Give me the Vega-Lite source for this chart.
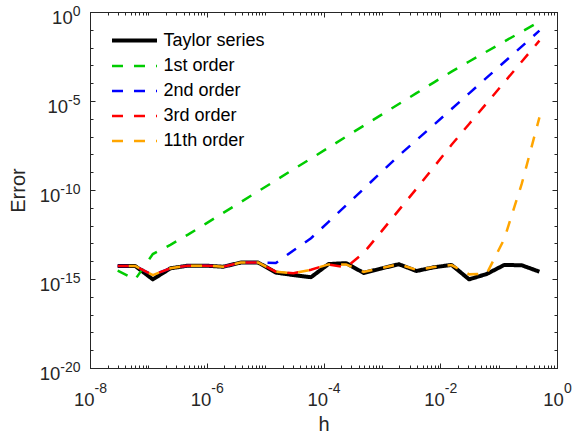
{
  "$schema": "https://vega.github.io/schema/vega-lite/v6.json",
  "width": 467,
  "height": 356,
  "autosize": {"type": "none"},
  "padding": {"left": 90, "top": 12, "right": 17, "bottom": 67},
  "background": "white",
  "config": {
    "font": "Liberation Sans",
    "view": {"stroke": "#262626", "strokeWidth": 1},
    "axis": {
      "grid": false,
      "domainColor": "#262626",
      "domainWidth": 1,
      "tickColor": "#262626",
      "tickWidth": 1,
      "labelColor": "#262626",
      "titleColor": "#262626",
      "labelFont": "Liberation Sans",
      "titleFont": "Liberation Sans",
      "labelFontSize": 18.5,
      "titleFontSize": 20,
      "titleFontWeight": "normal",
      "labelOverlap": false,
      "labelFlush": false,
      "labelBound": false
    },
    "legend": {
      "orient": "none",
      "legendX": 35,
      "legendY": 19,
      "padding": 0,
      "symbolType": "M-3,0H3",
      "symbolSize": 225,
      "labelFont": "Liberation Sans",
      "labelFontSize": 18,
      "labelColor": "#000000",
      "labelOffset": 19.5,
      "rowPadding": 7,
      "labelLimit": 300
    }
  },
  "data": {
    "values": [
      {"h": 0.5, "error": 2.57e-15, "series": "Taylor series"},
      {"h": 0.25, "error": 5.89e-15, "series": "Taylor series"},
      {"h": 0.125, "error": 6.17e-15, "series": "Taylor series"},
      {"h": 0.0625, "error": 1.91e-15, "series": "Taylor series"},
      {"h": 0.03125, "error": 9.55e-16, "series": "Taylor series"},
      {"h": 0.015625, "error": 6.17e-15, "series": "Taylor series"},
      {"h": 0.0078125, "error": 4.57e-15, "series": "Taylor series"},
      {"h": 0.00390625, "error": 2.82e-15, "series": "Taylor series"},
      {"h": 0.001953125, "error": 6.76e-15, "series": "Taylor series"},
      {"h": 0.0009765625, "error": 3.89e-15, "series": "Taylor series"},
      {"h": 0.00048828125, "error": 2.19e-15, "series": "Taylor series"},
      {"h": 0.000244140625, "error": 7.76e-15, "series": "Taylor series"},
      {"h": 0.0001220703125, "error": 6.92e-15, "series": "Taylor series"},
      {"h": 6.103515625e-5, "error": 1.26e-15, "series": "Taylor series"},
      {"h": 3.0517578125e-5, "error": 1.66e-15, "series": "Taylor series"},
      {"h": 1.52587890625e-5, "error": 2.29e-15, "series": "Taylor series"},
      {"h": 7.62939453125e-6, "error": 8.32e-15, "series": "Taylor series"},
      {"h": 3.814697265625e-6, "error": 8.32e-15, "series": "Taylor series"},
      {"h": 1.9073486328125e-6, "error": 4.9e-15, "series": "Taylor series"},
      {"h": 9.5367431640625e-7, "error": 5.62e-15, "series": "Taylor series"},
      {"h": 4.76837158203125e-7, "error": 5.62e-15, "series": "Taylor series"},
      {"h": 2.384185791015625e-7, "error": 3.98e-15, "series": "Taylor series"},
      {"h": 1.1920928955078125e-7, "error": 9.55e-16, "series": "Taylor series"},
      {"h": 5.9604644775390625e-8, "error": 5.37e-15, "series": "Taylor series"},
      {"h": 2.98023223876953125e-8, "error": 5.37e-15, "series": "Taylor series"},

      {"h": 0.5, "error": 0.285, "series": "1st order"},
      {"h": 0.25, "error": 0.0794, "series": "1st order"},
      {"h": 0.125, "error": 0.0219, "series": "1st order"},
      {"h": 0.0625, "error": 0.00603, "series": "1st order"},
      {"h": 0.03125, "error": 0.00166, "series": "1st order"},
      {"h": 0.015625, "error": 0.000447, "series": "1st order"},
      {"h": 0.0078125, "error": 0.000112, "series": "1st order"},
      {"h": 0.00390625, "error": 2.75e-5, "series": "1st order"},
      {"h": 0.001953125, "error": 6.76e-6, "series": "1st order"},
      {"h": 0.0009765625, "error": 1.66e-6, "series": "1st order"},
      {"h": 0.00048828125, "error": 4.07e-7, "series": "1st order"},
      {"h": 0.000244140625, "error": 1.0e-7, "series": "1st order"},
      {"h": 0.0001220703125, "error": 2.4e-8, "series": "1st order"},
      {"h": 6.103515625e-5, "error": 5.89e-9, "series": "1st order"},
      {"h": 3.0517578125e-5, "error": 1.45e-9, "series": "1st order"},
      {"h": 1.52587890625e-5, "error": 3.47e-10, "series": "1st order"},
      {"h": 7.62939453125e-6, "error": 8.51e-11, "series": "1st order"},
      {"h": 3.814697265625e-6, "error": 2.09e-11, "series": "1st order"},
      {"h": 1.9073486328125e-6, "error": 5.13e-12, "series": "1st order"},
      {"h": 9.5367431640625e-7, "error": 1.26e-12, "series": "1st order"},
      {"h": 4.76837158203125e-7, "error": 3.09e-13, "series": "1st order"},
      {"h": 2.384185791015625e-7, "error": 8.32e-14, "series": "1st order"},
      {"h": 1.1920928955078125e-7, "error": 2.51e-14, "series": "1st order"},
      {"h": 5.9604644775390625e-8, "error": 9.55e-16, "series": "1st order"},
      {"h": 2.98023223876953125e-8, "error": 2.95e-15, "series": "1st order"},

      {"h": 0.5, "error": 0.0891, "series": "2nd order"},
      {"h": 0.25, "error": 0.0117, "series": "2nd order"},
      {"h": 0.125, "error": 0.00155, "series": "2nd order"},
      {"h": 0.0625, "error": 0.000204, "series": "2nd order"},
      {"h": 0.03125, "error": 2.69e-5, "series": "2nd order"},
      {"h": 0.015625, "error": 3.55e-6, "series": "2nd order"},
      {"h": 0.0078125, "error": 4.68e-7, "series": "2nd order"},
      {"h": 0.00390625, "error": 6.31e-8, "series": "2nd order"},
      {"h": 0.001953125, "error": 8.51e-9, "series": "2nd order"},
      {"h": 0.0009765625, "error": 1.0e-9, "series": "2nd order"},
      {"h": 0.00048828125, "error": 1.17e-10, "series": "2nd order"},
      {"h": 0.000244140625, "error": 1.38e-11, "series": "2nd order"},
      {"h": 0.0001220703125, "error": 1.62e-12, "series": "2nd order"},
      {"h": 6.103515625e-5, "error": 1.95e-13, "series": "2nd order"},
      {"h": 3.0517578125e-5, "error": 3.98e-14, "series": "2nd order"},
      {"h": 1.52587890625e-5, "error": 7.94e-15, "series": "2nd order"},
      {"h": 7.62939453125e-6, "error": 8.32e-15, "series": "2nd order"},
      {"h": 3.814697265625e-6, "error": 8.32e-15, "series": "2nd order"},
      {"h": 1.9073486328125e-6, "error": 4.9e-15, "series": "2nd order"},
      {"h": 9.5367431640625e-7, "error": 5.62e-15, "series": "2nd order"},
      {"h": 4.76837158203125e-7, "error": 5.62e-15, "series": "2nd order"},
      {"h": 2.384185791015625e-7, "error": 3.98e-15, "series": "2nd order"},
      {"h": 1.1920928955078125e-7, "error": 1.66e-15, "series": "2nd order"},
      {"h": 5.9604644775390625e-8, "error": 5.37e-15, "series": "2nd order"},
      {"h": 2.98023223876953125e-8, "error": 5.37e-15, "series": "2nd order"},

      {"h": 0.5, "error": 0.0245, "series": "3rd order"},
      {"h": 0.25, "error": 0.00166, "series": "3rd order"},
      {"h": 0.125, "error": 0.000112, "series": "3rd order"},
      {"h": 0.0625, "error": 7.59e-6, "series": "3rd order"},
      {"h": 0.03125, "error": 5.13e-7, "series": "3rd order"},
      {"h": 0.015625, "error": 3.47e-8, "series": "3rd order"},
      {"h": 0.0078125, "error": 2.0e-9, "series": "3rd order"},
      {"h": 0.00390625, "error": 1.17e-10, "series": "3rd order"},
      {"h": 0.001953125, "error": 7.41e-12, "series": "3rd order"},
      {"h": 0.0009765625, "error": 4.57e-13, "series": "3rd order"},
      {"h": 0.00048828125, "error": 2.95e-14, "series": "3rd order"},
      {"h": 0.000244140625, "error": 4.47e-15, "series": "3rd order"},
      {"h": 0.0001220703125, "error": 6.61e-15, "series": "3rd order"},
      {"h": 6.103515625e-5, "error": 3.31e-15, "series": "3rd order"},
      {"h": 3.0517578125e-5, "error": 2.09e-15, "series": "3rd order"},
      {"h": 1.52587890625e-5, "error": 2.57e-15, "series": "3rd order"},
      {"h": 7.62939453125e-6, "error": 8.32e-15, "series": "3rd order"},
      {"h": 3.814697265625e-6, "error": 8.32e-15, "series": "3rd order"},
      {"h": 1.9073486328125e-6, "error": 4.9e-15, "series": "3rd order"},
      {"h": 9.5367431640625e-7, "error": 5.62e-15, "series": "3rd order"},
      {"h": 4.76837158203125e-7, "error": 5.62e-15, "series": "3rd order"},
      {"h": 2.384185791015625e-7, "error": 3.98e-15, "series": "3rd order"},
      {"h": 1.1920928955078125e-7, "error": 1.66e-15, "series": "3rd order"},
      {"h": 5.9604644775390625e-8, "error": 5.37e-15, "series": "3rd order"},
      {"h": 2.98023223876953125e-8, "error": 5.37e-15, "series": "3rd order"},

      {"h": 0.5, "error": 1.2e-6, "series": "11th order"},
      {"h": 0.25, "error": 2.34e-10, "series": "11th order"},
      {"h": 0.125, "error": 1.78e-13, "series": "11th order"},
      {"h": 0.0625, "error": 2.0e-15, "series": "11th order"},
      {"h": 0.03125, "error": 1.82e-15, "series": "11th order"},
      {"h": 0.015625, "error": 6.03e-15, "series": "11th order"},
      {"h": 0.0078125, "error": 4.68e-15, "series": "11th order"},
      {"h": 0.00390625, "error": 3.24e-15, "series": "11th order"},
      {"h": 0.001953125, "error": 6.76e-15, "series": "11th order"},
      {"h": 0.0009765625, "error": 4.07e-15, "series": "11th order"},
      {"h": 0.00048828125, "error": 2.51e-15, "series": "11th order"},
      {"h": 0.000244140625, "error": 6.61e-15, "series": "11th order"},
      {"h": 0.0001220703125, "error": 6.61e-15, "series": "11th order"},
      {"h": 6.103515625e-5, "error": 3.31e-15, "series": "11th order"},
      {"h": 3.0517578125e-5, "error": 2.09e-15, "series": "11th order"},
      {"h": 1.52587890625e-5, "error": 2.57e-15, "series": "11th order"},
      {"h": 7.62939453125e-6, "error": 8.32e-15, "series": "11th order"},
      {"h": 3.814697265625e-6, "error": 8.32e-15, "series": "11th order"},
      {"h": 1.9073486328125e-6, "error": 4.9e-15, "series": "11th order"},
      {"h": 9.5367431640625e-7, "error": 5.62e-15, "series": "11th order"},
      {"h": 4.76837158203125e-7, "error": 5.62e-15, "series": "11th order"},
      {"h": 2.384185791015625e-7, "error": 3.98e-15, "series": "11th order"},
      {"h": 1.1920928955078125e-7, "error": 1.66e-15, "series": "11th order"},
      {"h": 5.9604644775390625e-8, "error": 5.37e-15, "series": "11th order"},
      {"h": 2.98023223876953125e-8, "error": 5.37e-15, "series": "11th order"}
    ]
  },
  "encoding": {
    "color": {
      "field": "series", "type": "nominal",
      "scale": {"domain": ["Taylor series", "1st order", "2nd order", "3rd order", "11th order"],
                "range": ["#000000", "#00cc00", "#0000ff", "#ff0000", "#ffa500"]},
      "legend": {"title": null}
    },
    "strokeDash": {
      "field": "series", "type": "nominal",
      "scale": {"domain": ["Taylor series", "1st order", "2nd order", "3rd order", "11th order"],
                "range": [[1, 0], [11, 11], [11, 11], [11, 11], [11, 11]]},
      "legend": {"title": null}
    },
    "strokeWidth": {
      "field": "series", "type": "nominal",
      "scale": {"type": "ordinal", "domain": ["Taylor series", "1st order", "2nd order", "3rd order", "11th order"],
                "range": [4, 2.5, 2.5, 2.5, 2.5]},
      "legend": {"title": null}
    }
  },
  "layer": [
    {
      "transform": [{"filter": "datum.series == 'Taylor series'"}],
      "mark": {"type": "line", "strokeJoin": "round"},
      "encoding": {
        "x": {
          "field": "h", "type": "quantitative",
          "scale": {"type": "log", "domain": [1e-8, 1], "nice": false},
          "axis": {
            "orient": "bottom",
            "title": "h",
            "titlePadding": 6,
            "ticks": false,
            "tickSize": 0,
            "domain": false,
            "values": [1e-8, 1e-6, 1e-4, 0.01, 1],
            "labelExpr": "'10'",
            "labelAlign": "right",
            "labelBaseline": "alphabetic",
            "labelPadding": 37,
            "labelOffset": {"condition": {"test": "datum.value == 1", "value": 6.4}, "value": 4.1}
          }
        },
        "y": {
          "field": "error", "type": "quantitative",
          "scale": {"type": "log", "domain": [1e-20, 1], "nice": false},
          "axis": {
            "orient": "left",
            "title": "Error",
            "titlePadding": 11,
            "ticks": false,
            "tickSize": 0,
            "domain": false,
            "values": [1e-20, 1e-15, 1e-10, 1e-5, 1],
            "labelExpr": "'10'",
            "labelAlign": "right",
            "labelBaseline": "alphabetic",
            "labelOffset": 11.7,
            "labelPadding": {"condition": [{"test": "datum.value == 1", "value": 17.8}, {"test": "datum.value == 1e-5", "value": 22.4}], "value": 30.2}
          }
        }
      }
    },
    {
      "transform": [{"filter": "datum.series == '1st order'"}],
      "mark": {"type": "line"},
      "encoding": {
        "x": {
          "field": "h", "type": "quantitative",
          "scale": {"type": "log", "domain": [1e-8, 1], "nice": false},
          "axis": {
            "orient": "bottom",
            "title": null,
            "ticks": false,
            "tickSize": 0,
            "domain": false,
            "values": [1e-8, 1e-6, 1e-4, 0.01, 1],
            "labelExpr": "datum.value == 1 ? '0' : datum.value == 0.01 ? '-2' : datum.value == 1e-4 ? '-4' : datum.value == 1e-6 ? '-6' : '-8'",
            "labelFontSize": 14,
            "labelAlign": "left",
            "labelBaseline": "alphabetic",
            "labelPadding": 24,
            "labelOffset": {"condition": {"test": "datum.value == 1", "value": 6.4}, "value": 4.1}
          }
        },
        "y": {
          "field": "error", "type": "quantitative",
          "scale": {"type": "log", "domain": [1e-20, 1], "nice": false},
          "axis": {
            "orient": "left",
            "title": null,
            "ticks": false,
            "tickSize": 0,
            "domain": false,
            "values": [1e-20, 1e-15, 1e-10, 1e-5, 1],
            "labelExpr": "datum.value == 1 ? '0' : datum.value == 1e-5 ? '-5' : datum.value == 1e-10 ? '-10' : datum.value == 1e-15 ? '-15' : '-20'",
            "labelFontSize": 14,
            "labelAlign": "right",
            "labelBaseline": "alphabetic",
            "labelOffset": 3,
            "labelPadding": 10
          }
        }
      }
    },
    {
      "transform": [{"filter": "datum.series == '2nd order'"}],
      "mark": {"type": "line"},
      "encoding": {
        "x": {
          "field": "h", "type": "quantitative",
          "scale": {"type": "log", "domain": [1e-8, 1], "nice": false},
          "axis": {
            "orient": "top", "title": null, "labels": false,
            "values": [1e-8,2e-8,3e-8,4e-8,5e-8,6e-8,7e-8,8e-8,9e-8,1e-7,2e-7,3e-7,4e-7,5e-7,6e-7,7e-7,8e-7,9e-7,1e-6,2e-6,3e-6,4e-6,5e-6,6e-6,7e-6,8e-6,9e-6,1e-5,2e-5,3e-5,4e-5,5e-5,6e-5,7e-5,8e-5,9e-5,1e-4,2e-4,3e-4,4e-4,5e-4,6e-4,7e-4,8e-4,9e-4,0.001,0.002,0.003,0.004,0.005,0.006,0.007,0.008,0.009,0.01,0.02,0.03,0.04,0.05,0.06,0.07,0.08,0.09,0.1,0.2,0.3,0.4,0.5,0.6,0.7,0.8,0.9,1],
            "tickSize": {"condition": {"test": "indexof([1e-8,1e-6,1e-4,0.01,1], datum.value) >= 0", "value": -5}, "value": -3}
          }
        },
        "y": {
          "field": "error", "type": "quantitative",
          "scale": {"type": "log", "domain": [1e-20, 1], "nice": false},
          "axis": {
            "orient": "right", "title": null, "labels": false,
            "values": [1e-20,1e-19,1e-18,1e-17,1e-16,1e-15,1e-14,1e-13,1e-12,1e-11,1e-10,1e-9,1e-8,1e-7,1e-6,1e-5,1e-4,0.001,0.01,0.1,1],
            "tickSize": {"condition": {"test": "indexof([1e-20,1e-15,1e-10,1e-5,1], datum.value) >= 0", "value": -5}, "value": -3}
          }
        }
      }
    },
    {
      "transform": [{"filter": "datum.series == '3rd order'"}],
      "mark": {"type": "line"},
      "encoding": {
        "x": {
          "field": "h", "type": "quantitative",
          "scale": {"type": "log", "domain": [1e-8, 1], "nice": false},
          "axis": {
            "orient": "bottom", "title": null, "labels": false,
            "values": [1e-8,2e-8,3e-8,4e-8,5e-8,6e-8,7e-8,8e-8,9e-8,1e-7,2e-7,3e-7,4e-7,5e-7,6e-7,7e-7,8e-7,9e-7,1e-6,2e-6,3e-6,4e-6,5e-6,6e-6,7e-6,8e-6,9e-6,1e-5,2e-5,3e-5,4e-5,5e-5,6e-5,7e-5,8e-5,9e-5,1e-4,2e-4,3e-4,4e-4,5e-4,6e-4,7e-4,8e-4,9e-4,0.001,0.002,0.003,0.004,0.005,0.006,0.007,0.008,0.009,0.01,0.02,0.03,0.04,0.05,0.06,0.07,0.08,0.09,0.1,0.2,0.3,0.4,0.5,0.6,0.7,0.8,0.9,1],
            "tickSize": {"condition": {"test": "indexof([1e-8,1e-6,1e-4,0.01,1], datum.value) >= 0", "value": -5}, "value": -3}
          }
        },
        "y": {
          "field": "error", "type": "quantitative",
          "scale": {"type": "log", "domain": [1e-20, 1], "nice": false},
          "axis": {
            "orient": "left", "title": null, "labels": false,
            "values": [1e-20,1e-19,1e-18,1e-17,1e-16,1e-15,1e-14,1e-13,1e-12,1e-11,1e-10,1e-9,1e-8,1e-7,1e-6,1e-5,1e-4,0.001,0.01,0.1,1],
            "tickSize": {"condition": {"test": "indexof([1e-20,1e-15,1e-10,1e-5,1], datum.value) >= 0", "value": -5}, "value": -3}
          }
        }
      }
    },
    {
      "transform": [{"filter": "datum.series == '11th order'"}],
      "mark": {"type": "line", "strokeDashOffset": 11},
      "encoding": {
        "x": {"field": "h", "type": "quantitative", "scale": {"type": "log", "domain": [1e-8, 1], "nice": false}, "axis": null},
        "y": {"field": "error", "type": "quantitative", "scale": {"type": "log", "domain": [1e-20, 1], "nice": false}, "axis": null}
      }
    }
  ],
  "resolve": {"axis": {"x": "independent", "y": "independent"}}
}
